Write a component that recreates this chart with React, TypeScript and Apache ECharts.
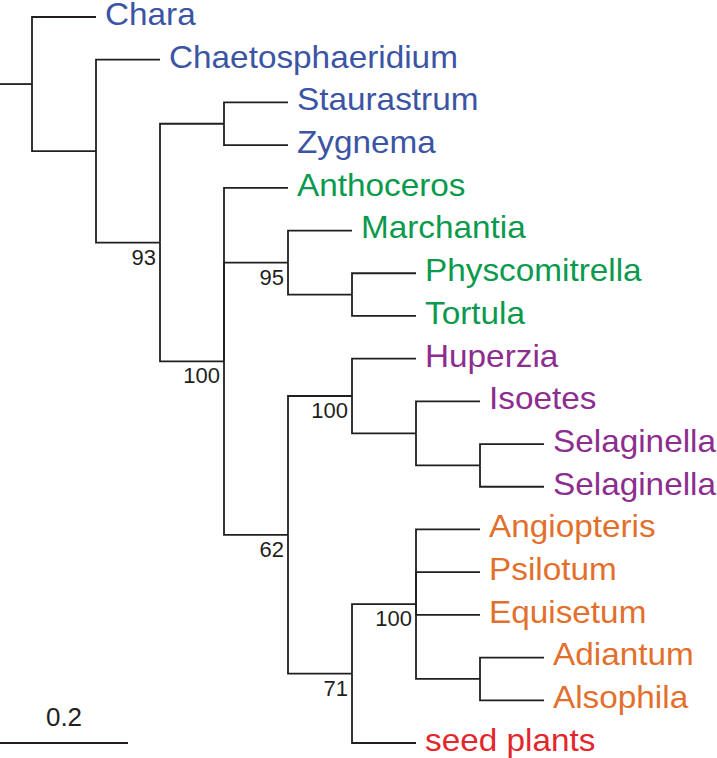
import React, { useEffect, useRef } from "react";
import * as echarts from "echarts";

// Tree topology: one entry per node (internal nodes have empty names)
const nodeNames = [
  "", "Chara", "", "Chaetosphaeridium", "", "", "Staurastrum", "Zygnema",
  "", "Anthoceros", "", "Marchantia", "", "Physcomitrella", "Tortula",
  "", "", "Huperzia", "", "Isoetes", "", "Selaginella", "Selaginella",
  "", "", "Angiopteris", "Psilotum", "Equisetum", "", "Adiantum", "Alsophila",
  "seed plants",
];
const nodeParents = [
  -1, 0, 0, 2, 2, 4, 5, 5,
  4, 8, 8, 10, 10, 12, 12,
  8, 15, 16, 16, 18, 18, 20, 20,
  15, 23, 24, 24, 24, 24, 28, 28,
  23,
];
const branchLengths = [
  0.05, 0.1, 0.1, 0.1, 0.1, 0.1, 0.1, 0.1,
  0.1, 0.1, 0.1, 0.1, 0.1, 0.1, 0.1,
  0.1, 0.1, 0.1, 0.1, 0.1, 0.1, 0.1, 0.1,
  0.1, 0.1, 0.1, 0.1, 0.1, 0.1, 0.1, 0.1,
  0.1,
];
const supportValues: (number | null)[] = [
  null, null, null, null, 93, null, null, null,
  100, null, 95, null, null, null, null,
  62, 100, null, null, null, null, null, null,
  71, 100, null, null, null, null, null, null,
  null,
];
// group per leaf, in leaf order (top to bottom)
const leafGroups = [0, 0, 0, 0, 1, 1, 1, 1, 2, 2, 2, 2, 3, 3, 3, 3, 3, 4];
const groupColors = ["#3b54a4", "#0b9a4d", "#8d2d8f", "#e2702c", "#e3262c"];
const scaleBarLength = 0.2;
const scaleBarLabel = "0.2";

const FONT = "'Liberation Sans', Arial, Helvetica, sans-serif";
const LINE = "#231f20";

function layoutTree() {
  const n = nodeNames.length;
  const children: number[][] = Array.from({ length: n }, () => []);
  nodeParents.forEach((p, i) => {
    if (p >= 0) children[p].push(i);
  });
  const x = new Array(n).fill(0);
  const y = new Array(n).fill(0);
  const leafOrder: number[] = [];
  const visit = (i: number, px: number) => {
    x[i] = px + branchLengths[i];
    if (children[i].length === 0) {
      y[i] = leafOrder.length;
      leafOrder.push(i);
    } else {
      children[i].forEach((c) => visit(c, x[i]));
      const ys = children[i].map((c) => y[c]);
      y[i] = (Math.min(...ys) + Math.max(...ys)) / 2;
    }
  };
  visit(0, 0);
  return { x, y, children, leafOrder };
}

export default function App() {
  const ref = useRef<HTMLDivElement>(null);
  useEffect(() => {
    if (!ref.current) return;
    const chart = echarts.init(ref.current, undefined, { renderer: "svg" });
    const { x, y, leafOrder } = layoutTree();
    const nLeaves = leafOrder.length;

    const edgeData = nodeParents.map((p, i) =>
      p >= 0 ? [x[p], y[p], x[i], y[i]] : [0, y[i], x[i], y[i]]
    );
    const leafData = leafOrder.map((i, k) => ({
      value: [x[i], y[i]],
      name: nodeNames[i],
      color: groupColors[leafGroups[k]],
    }));
    const supportData = supportValues
      .map((s, i) => (s == null ? null : { value: [x[i], y[i]], name: String(s) }))
      .filter((d) => d != null) as any[];
    const scaleY = nLeaves - 1;

    chart.setOption({
      animation: false,
      backgroundColor: "#ffffff",
      grid: { left: 0, top: 17, width: 640, height: 726 },
      xAxis: { type: "value", min: 0, max: 1, show: false },
      yAxis: { type: "value", min: 0, max: nLeaves - 1, inverse: true, show: false },
      series: [
        {
          type: "custom",
          clip: false,
          silent: true,
          encode: { x: [0, 2], y: [1, 3] },
          data: edgeData,
          renderItem: (params: any, api: any) => {
            const a = api.coord([api.value(0), api.value(1)]);
            const b = api.coord([api.value(0), api.value(3)]);
            const c = api.coord([api.value(2), api.value(3)]);
            return {
              type: "polyline",
              shape: { points: [a, b, c] },
              style: { stroke: LINE, lineWidth: 1.8, fill: "none" },
            };
          },
        },
        {
          type: "custom",
          clip: false,
          silent: true,
          encode: { x: 0, y: 1 },
          data: leafData,
          renderItem: (params: any, api: any) => {
            const d = leafData[params.dataIndex];
            const p = api.coord([api.value(0), api.value(1)]);
            return {
              type: "text",
              x: p[0] + 9,
              y: p[1] - 2.7,
              scaleX: 1.075,
              style: {
                text: d.name,
                x: 0,
                y: 0,
                fill: d.color,
                fontSize: 31,
                lineHeight: 28,
                fontFamily: FONT,
                align: "left",
                verticalAlign: "middle",
              },
            };
          },
        },
        {
          type: "custom",
          clip: false,
          silent: true,
          encode: { x: 0, y: 1 },
          data: supportData,
          renderItem: (params: any, api: any) => {
            const d = supportData[params.dataIndex];
            const p = api.coord([api.value(0), api.value(1)]);
            return {
              type: "text",
              style: {
                text: d.name,
                x: p[0] - 4,
                y: p[1] + 14.5,
                fill: "#231f20",
                fontSize: 22,
                fontFamily: FONT,
                align: "right",
                verticalAlign: "middle",
              },
            };
          },
        },
        {
          type: "custom",
          clip: false,
          silent: true,
          encode: { x: [0, 1], y: 2 },
          data: [[0, scaleBarLength, scaleY]],
          renderItem: (params: any, api: any) => {
            const a = api.coord([api.value(0), api.value(2)]);
            const b = api.coord([api.value(1), api.value(2)]);
            return {
              type: "group",
              children: [
                {
                  type: "line",
                  shape: { x1: a[0], y1: a[1], x2: b[0], y2: b[1] },
                  style: { stroke: LINE, lineWidth: 1.8 },
                },
                {
                  type: "text",
                  style: {
                    text: scaleBarLabel,
                    x: (a[0] + b[0]) / 2,
                    y: a[1] - 26,
                    fill: "#231f20",
                    fontSize: 26,
                    fontFamily: FONT,
                    align: "center",
                    verticalAlign: "middle",
                  },
                },
              ],
            };
          },
        },
      ],
    });
    return () => chart.dispose();
  }, []);

  return (
    <div
      ref={ref}
      style={{ position: "fixed", left: 0, top: 0, width: 717, height: 758, background: "#fff" }}
    />
  );
}
